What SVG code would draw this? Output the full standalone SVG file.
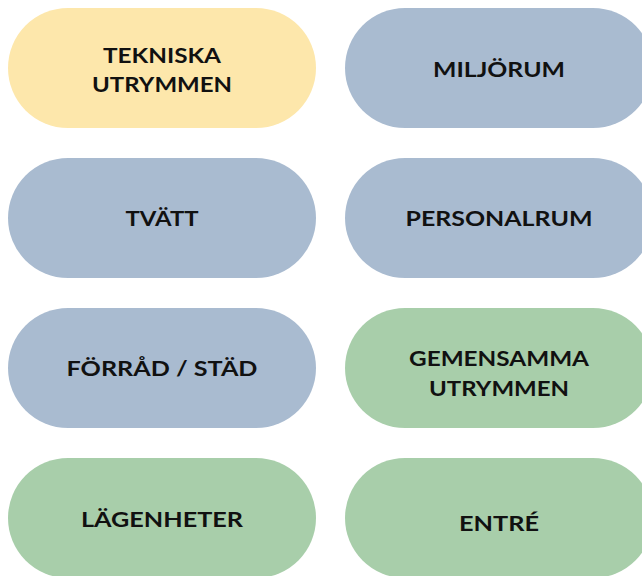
<svg xmlns="http://www.w3.org/2000/svg" width="642" height="576" viewBox="0 0 642 576">
<style>
.pill{stroke:none}
.y{fill:#FDE7AB}
.b{fill:#A9BBD0}
.g{fill:#A8CEAA}
text{font-family:"Lato","Liberation Sans",sans-serif;font-weight:700;font-size:21px;fill:#111;text-anchor:middle}
</style>
<rect width="642" height="576" fill="#fff"/>
<g id="tekniska"><rect class="pill y" x="8" y="8" width="308" height="120" rx="60"/><text x="162" y="63" textLength="118" lengthAdjust="spacingAndGlyphs">TEKNISKA</text><text x="162" y="92" textLength="140" lengthAdjust="spacingAndGlyphs">UTRYMMEN</text></g>
<g id="miljorum"><rect class="pill b" x="345" y="8" width="308" height="120" rx="60"/><text x="499" y="77" textLength="132" lengthAdjust="spacingAndGlyphs">MILJÖRUM</text></g>
<g id="tvatt"><rect class="pill b" x="8" y="158" width="308" height="120" rx="60"/><text x="162" y="226" textLength="73" lengthAdjust="spacingAndGlyphs">TVÄTT</text></g>
<g id="personalrum"><rect class="pill b" x="345" y="158" width="308" height="120" rx="60"/><text x="499" y="226" textLength="187" lengthAdjust="spacingAndGlyphs">PERSONALRUM</text></g>
<g id="forrad"><rect class="pill b" x="8" y="308" width="308" height="120" rx="60"/><text x="162" y="376" textLength="191" lengthAdjust="spacingAndGlyphs">FÖRRÅD / STÄD</text></g>
<g id="gemensamma"><rect class="pill g" x="345" y="308" width="308" height="120" rx="60"/><text x="499" y="366" textLength="180" lengthAdjust="spacingAndGlyphs">GEMENSAMMA</text><text x="499" y="396" textLength="140" lengthAdjust="spacingAndGlyphs">UTRYMMEN</text></g>
<g id="lagenheter"><rect class="pill g" x="8" y="458" width="308" height="120" rx="60"/><text x="162" y="527" textLength="162" lengthAdjust="spacingAndGlyphs">LÄGENHETER</text></g>
<g id="entre"><rect class="pill g" x="345" y="458" width="308" height="120" rx="60"/><text x="499" y="531" textLength="80" lengthAdjust="spacingAndGlyphs">ENTRÉ</text></g>
<g id="connectors"/>
</svg>
